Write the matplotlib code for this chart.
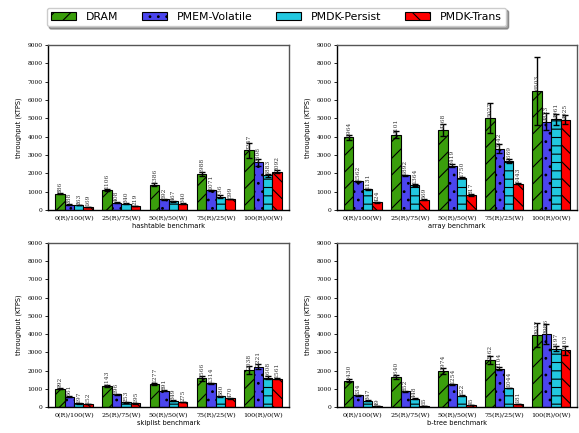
import matplotlib
matplotlib.use("Agg")
import matplotlib.pyplot as plt
import numpy as np

categories = ["0(R)/100(W)", "25(R)/75(W)", "50(R)/50(W)", "75(R)/25(W)", "100(R)/0(W)"]
series_names = ["DRAM", "PMEM-Volatile", "PMDK-Persist", "PMDK-Trans"]

hashtable_vals = [
    [886, 1106, 1386, 1988, 3247],
    [288, 408, 592, 1071, 2608],
    [263, 340, 467, 736, 1883],
    [169, 219, 340, 599, 2092],
]
hashtable_err = [
    [40, 60, 60, 110, 400],
    [20, 20, 30, 40, 200],
    [15, 20, 30, 60, 100],
    [10, 10, 15, 20, 80],
]
array_vals = [
    [3964, 4101, 4368, 5027, 6503],
    [1562, 1892, 2419, 3342, 4823],
    [1131, 1364, 1750, 2669, 4961],
    [424, 569, 817, 1443, 4925],
]
array_err = [
    [150, 200, 350, 800, 1850],
    [30, 40, 100, 250, 450],
    [20, 30, 30, 100, 300],
    [15, 20, 60, 40, 250],
]
skiplist_vals = [
    [992, 1143, 1277, 1566, 2038],
    [561, 696, 891, 1314, 2221],
    [197, 253, 349, 580, 1608],
    [152, 195, 275, 470, 1561],
]
skiplist_err = [
    [30, 50, 50, 120, 200],
    [20, 20, 20, 30, 120],
    [10, 10, 15, 20, 80],
    [10, 10, 10, 15, 40],
]
btree_vals = [
    [1430, 1640, 1974, 2562, 3937],
    [634, 852, 1254, 2104, 3986],
    [347, 448, 622, 1044, 3197],
    [49, 65, 95, 181, 3103],
]
btree_err = [
    [80, 120, 150, 220, 650],
    [20, 20, 30, 100, 550],
    [20, 20, 20, 20, 150],
    [5, 5, 5, 10, 250],
]

panels = [
    ("hashtable benchmark", hashtable_vals, hashtable_err),
    ("array benchmark", array_vals, array_err),
    ("skiplist benchmark", skiplist_vals, skiplist_err),
    ("b-tree benchmark", btree_vals, btree_err),
]

colors = ["#3a9e0c", "#4b45ee", "#22c8e0", "#ff0000"]
hatches = ["//", "..", "--", "\\\\"]

plt.rcParams["hatch.linewidth"] = 0.8

fig = plt.figure(figsize=(5.79, 4.33), dpi=100)
W, H = 579.0, 433.0
rects = [
    (48, 45, 289, 210),
    (337, 45, 577, 210),
    (48, 243, 289, 407),
    (337, 243, 577, 407),
]
axes = []
for (x0, y0, x1, y1) in rects:
    axes.append(fig.add_axes([x0 / W, 1 - y1 / H, (x1 - x0) / W, (y1 - y0) / H]))

bw = 0.2
x = np.arange(len(categories))
handles = []
for ax, (title, vals, errs) in zip(axes, panels):
    for i in range(4):
        pos = x + (i - 1.5) * bw
        b = ax.bar(pos, vals[i], bw, color=colors[i], edgecolor="black", linewidth=0.8,
                   hatch=hatches[i], label=series_names[i], zorder=2)
        ax.errorbar(pos, vals[i], yerr=errs[i], fmt="none", ecolor="black",
                    elinewidth=1.0, capsize=2.5, capthick=1.0, zorder=3)
        if ax is axes[0]:
            handles.append(b)
        for p, v in zip(pos, vals[i]):
            ax.text(p, v + 30, str(v), rotation=90, ha="center", va="bottom",
                    fontsize=4.3, color="#333333", family="DejaVu Serif", zorder=4)
    ax.set_ylim(0, 9000)
    ax.set_xlim(-0.55, 4.55)
    ax.set_yticks(range(0, 9001, 1000))
    ax.set_xticks(x)
    ax.set_xticklabels(categories)
    for lbl in ax.get_xticklabels() + ax.get_yticklabels():
        lbl.set_family("DejaVu Serif")
    ax.tick_params(axis="x", labelsize=4.6, length=0, pad=4)
    ax.tick_params(axis="y", labelsize=4.2, length=2, width=0.6, pad=2)
    ax.set_xlabel(title, fontsize=4.8, labelpad=2)
    ax.set_ylabel("throughput (KTPS)", fontsize=4.8, labelpad=4)
    for s in ax.spines.values():
        s.set_linewidth(1.0)
        s.set_color("#555555")
    ax.spines["bottom"].set_color("black")
    ax.spines["left"].set_color("black")

fig.legend(handles, series_names, loc="upper center", bbox_to_anchor=(0.477, 0.995),
           ncol=4, fontsize=7.8, frameon=True, shadow=True, fancybox=True,
           handlelength=2.3, handleheight=0.65, columnspacing=2.2, handletextpad=0.9,
           borderpad=0.4)

fig.savefig("out.png", dpi=100)
